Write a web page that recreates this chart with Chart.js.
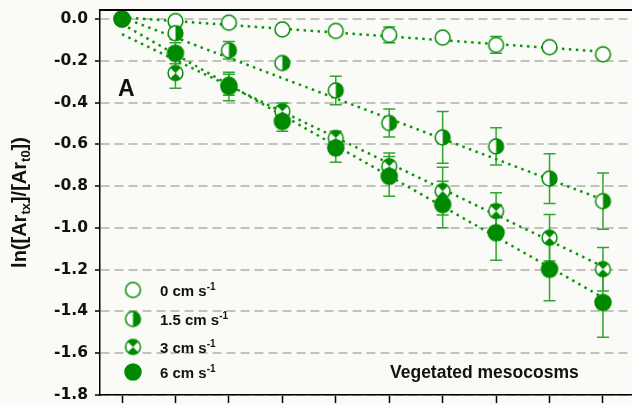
<!DOCTYPE html>
<html>
<head>
<meta charset="utf-8">
<script src="https://cdn.jsdelivr.net/npm/chart.js@4.4.1/dist/chart.umd.min.js"></script>
<style>
  html, body { margin: 0; padding: 0; background: #fafaf7; }
  #wrap { width: 632px; height: 405px; }
</style>
</head>
<body>
<div id="wrap"><canvas id="chart" width="632" height="405"></canvas></div>
<script>
// sampling times (unlabelled x positions)
const timePoints = [0, 1, 2, 3, 4, 5, 6, 7, 8, 9];
const speeds = [0, 1.5, 3, 6];

// ln([Ar_tx]/[Ar_t0]) per flow speed, with error bars
const ln0 = [0, -0.010, -0.018, -0.050, -0.057, -0.076, -0.089, -0.124, -0.135, -0.169];
const err0 = [0, 0.02, 0.02, 0.02, 0.02, 0.038, 0.02, 0.040, 0.02, 0.02];
const ln15 = [0, -0.068, -0.150, -0.211, -0.342, -0.498, -0.567, -0.610, -0.764, -0.872];
const err15 = [0, 0.03, 0.042, 0.02, 0.068, 0.067, 0.124, 0.089, 0.119, 0.135];
const ln3 = [0, -0.259, -0.315, -0.442, -0.570, -0.705, -0.824, -0.920, -1.047, -1.198];
const err3 = [0, 0.072, 0.050, 0.040, 0.032, 0.064, 0.114, 0.088, 0.111, 0.104];
const ln6 = [0, -0.164, -0.323, -0.490, -0.617, -0.753, -0.888, -1.023, -1.198, -1.357];
const err6 = [0, 0.050, 0.068, 0.048, 0.069, 0.095, 0.111, 0.132, 0.151, 0.167];

// dotted trend lines, value at first and last time point
const fitX = [0, 9];
const fit0 = [0.008, -0.157];
const fit15 = [0.008, -0.865];
const fit3 = [-0.073, -1.185];
const fit6 = [-0.024, -1.334];

const yTicks = [-1.8, -1.6, -1.4, -1.2, -1.0, -0.8, -0.6, -0.4, -0.2, 0.0];

const GREEN = '#008a00';
const LINE_GREEN = '#0c960c';
const ERR_GREEN = '#30a530';

function makeMarker(kind, r) {
  const c = document.createElement('canvas');
  const s = Math.ceil(r * 2 + 4);
  c.width = s; c.height = s;
  const g = c.getContext('2d');
  const m = s / 2;
  g.lineWidth = 1.5;
  g.strokeStyle = GREEN;
  g.fillStyle = '#ffffff';
  g.beginPath(); g.arc(m, m, r, 0, Math.PI * 2); g.fill();
  g.fillStyle = GREEN;
  if (kind === 'half') {
    g.beginPath(); g.moveTo(m, m); g.arc(m, m, r, -Math.PI / 2, Math.PI / 2); g.closePath(); g.fill();
  } else if (kind === 'hourglass') {
    g.beginPath(); g.moveTo(m, m); g.arc(m, m, r, -Math.PI * 0.75, -Math.PI * 0.25); g.closePath(); g.fill();
    g.beginPath(); g.moveTo(m, m); g.arc(m, m, r, Math.PI * 0.25, Math.PI * 0.75); g.closePath(); g.fill();
  } else if (kind === 'filled') {
    g.beginPath(); g.arc(m, m, r, 0, Math.PI * 2); g.fill();
  }
  g.beginPath(); g.arc(m, m, r, 0, Math.PI * 2); g.stroke();
  return c;
}

const markers = [
  makeMarker('open', 7.4),
  makeMarker('half', 7.4),
  makeMarker('hourglass', 7.4),
  makeMarker('filled', 8)
];

const seriesVals = [ln0, ln15, ln3, ln6];
const seriesErr = [err0, err15, err3, err6];
const seriesFit = [fit0, fit15, fit3, fit6];

const datasets = [];
seriesFit.forEach((f, k) => {
  datasets.push({
    type: 'line',
    data: fitX.map((x, i) => ({ x: x, y: f[i] })),
    borderColor: LINE_GREEN,
    borderWidth: 2.5,
    borderDash: [2.5, 4.5],
    pointRadius: 0,
    fill: false,
    order: 10
  });
});
seriesVals.forEach((vals, k) => {
  datasets.push({
    type: 'scatter',
    label: speeds[k] + ' cm s-1',
    data: timePoints.map((t, i) => ({ x: t, y: vals[i] })),
    errors: seriesErr[k],
    pointStyle: markers[k],
    pointRadius: 8,
    order: 4 - k
  });
});

const errorBars = {
  id: 'errorBars',
  beforeDatasetsDraw(chart) {
    const { ctx, scales: { x, y } } = chart;
    ctx.save();
    ctx.strokeStyle = ERR_GREEN;
    ctx.lineWidth = 1.5;
    chart.data.datasets.forEach(ds => {
      if (!ds.errors) return;
      ds.data.forEach((p, i) => {
        const e = ds.errors[i];
        if (!e) return;
        const px = x.getPixelForValue(p.x);
        const top = y.getPixelForValue(p.y + e);
        const bot = y.getPixelForValue(p.y - e);
        ctx.beginPath();
        ctx.moveTo(px, top); ctx.lineTo(px, bot);
        ctx.moveTo(px - 6, top); ctx.lineTo(px + 6, top);
        ctx.moveTo(px - 6, bot); ctx.lineTo(px + 6, bot);
        ctx.stroke();
      });
    });
    ctx.restore();
  }
};

// text pieces: [text, 0 normal | 1 subscript | 2 superscript]
function drawPieces(ctx, pieces, x, y, big, small, shift) {
  let cx = x;
  pieces.forEach(([t, kind]) => {
    ctx.font = 'bold ' + (kind ? small : big) + 'px "Liberation Sans", Arial, sans-serif';
    const dy = kind === 1 ? shift : kind === 2 ? -shift : 0;
    ctx.fillText(t, cx, y + dy);
    cx += ctx.measureText(t).width;
  });
}
function piecesWidth(ctx, pieces, big, small) {
  let w = 0;
  pieces.forEach(([t, kind]) => {
    ctx.font = 'bold ' + (kind ? small : big) + 'px "Liberation Sans", Arial, sans-serif';
    w += ctx.measureText(t).width;
  });
  return w;
}

const annotations = {
  id: 'annotations',
  afterDraw(chart) {
    const { ctx, chartArea: a } = chart;
    ctx.save();
    // top frame line
    ctx.strokeStyle = '#000';
    ctx.lineWidth = 2;
    ctx.beginPath(); ctx.moveTo(a.left - 1, a.top); ctx.lineTo(a.right, a.top); ctx.stroke();

    ctx.fillStyle = '#111';
    ctx.textBaseline = 'alphabetic';

    // y axis title, rotated
    const title = [['ln([Ar', 0], ['tx', 1], [']/[Ar', 0], ['t0', 1], ['])', 0]];
    const tw = piecesWidth(ctx, title, 20, 13);
    ctx.save();
    ctx.translate(26, (a.top + a.bottom) / 2);
    ctx.rotate(-Math.PI / 2);
    drawPieces(ctx, title, -tw / 2, 0, 20, 13, 4);
    ctx.restore();

    // panel letter
    ctx.font = 'bold 23px "Liberation Sans", Arial, sans-serif';
    ctx.textAlign = 'left';
    ctx.fillText('A', a.left + 18, a.top + 86);

    // caption
    ctx.font = 'bold 17.5px "Liberation Sans", Arial, sans-serif';
    ctx.fillText('Vegetated mesocosms', a.left + 290, a.top + 368);

    // legend
    const rows = [280, 309, 337, 362];
    speeds.forEach((v, k) => {
      const my = a.top + rows[k];
      const mk = markers[k];
      ctx.drawImage(mk, a.left + 33 - mk.width / 2, my - mk.height / 2);
      drawPieces(ctx, [[v + ' cm s', 0], ['-1', 2]], a.left + 60, my + 6, 15, 10, 6);
    });
    ctx.restore();
  }
};

new Chart(document.getElementById('chart'), {
  data: { datasets: datasets },
  options: {
    responsive: false,
    devicePixelRatio: 1,
    animation: false,
    layout: { autoPadding: false, padding: { top: 10, left: 0, right: 0, bottom: 0 } },
    plugins: { legend: { display: false }, tooltip: { enabled: false } },
    scales: {
      x: {
        type: 'linear',
        position: 'bottom',
        min: -0.412,
        max: 9.543,
        afterBuildTicks: s => { s.ticks = timePoints.map(v => ({ value: v })); },
        afterFit: s => { s.height = 10; s.paddingLeft = 0; s.paddingRight = 0; },
        ticks: { display: false },
        grid: { drawOnChartArea: false, drawTicks: true, tickLength: 8, tickColor: '#000', tickWidth: 1.5 },
        border: { display: true, color: '#000', width: 1.5 }
      },
      y: {
        type: 'linear',
        min: -1.8,
        max: 0.043,
        afterBuildTicks: s => { s.ticks = yTicks.map(v => ({ value: v })); },
        afterFit: s => { s.width = 100; s.paddingTop = 0; s.paddingBottom = 0; },
        ticks: {
          padding: 7,
          color: '#111',
          font: { family: '"DejaVu Sans", sans-serif', weight: 'bold', size: 15.5 },
          callback: v => v.toFixed(1)
        },
        grid: { color: '#c2c2ba', lineWidth: 2, drawTicks: true, tickLength: 5, tickColor: '#000', tickWidth: 1.5, tickBorderDash: [] },
        border: { display: true, color: '#000', width: 1.5, dash: [9, 5] }
      }
    }
  },
  plugins: [errorBars, annotations]
});
</script>
</body>
</html>
